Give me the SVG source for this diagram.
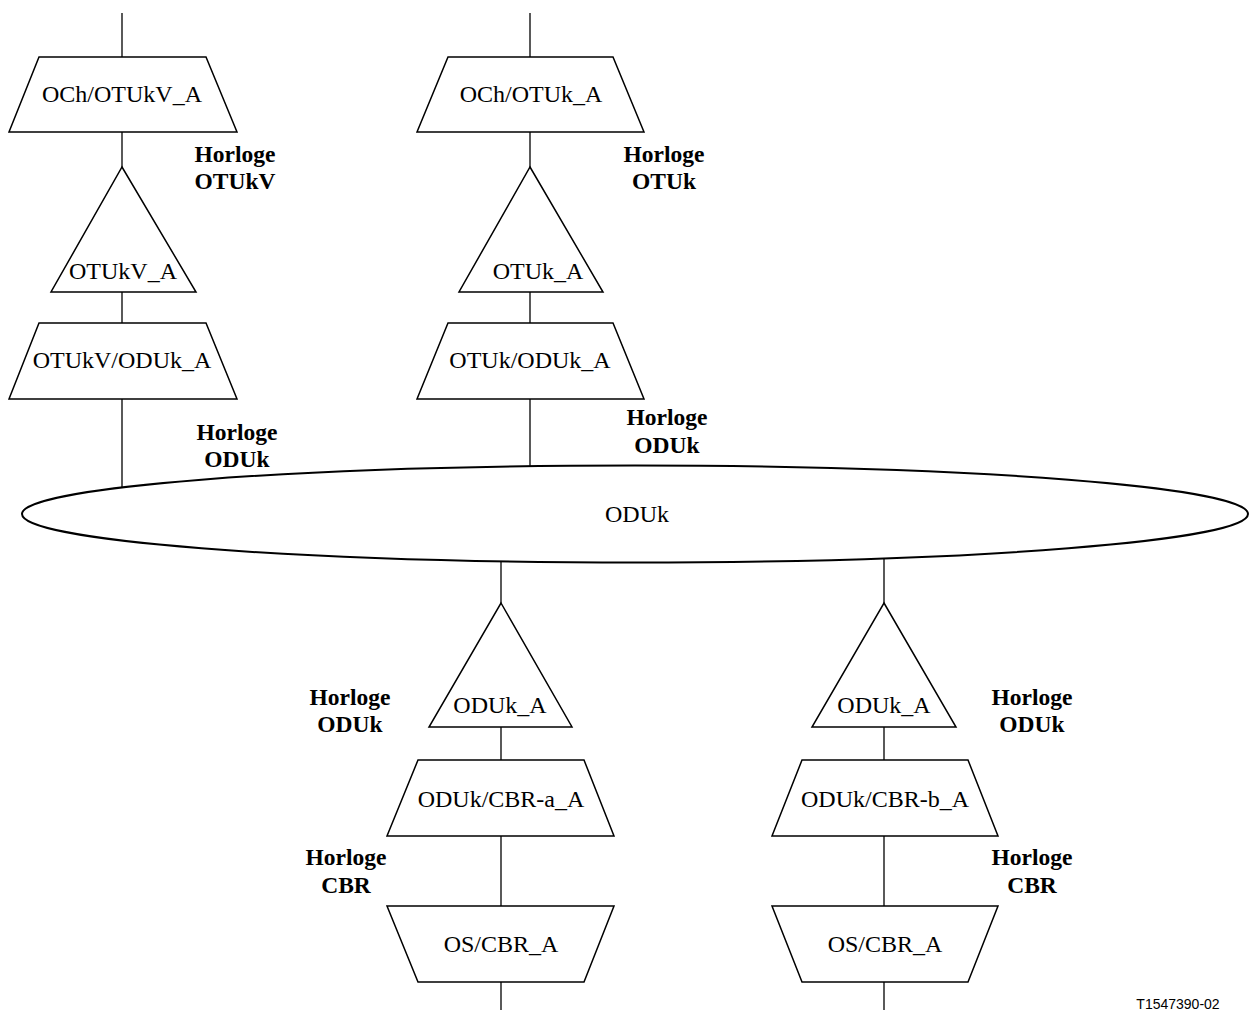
<svg xmlns="http://www.w3.org/2000/svg" width="1250" height="1010" viewBox="0 0 1250 1010">
<style>
.s{fill:#fff;stroke:#000;stroke-width:1.5}
.c{stroke:#000;stroke-width:1.3;fill:none}
.t{font-family:"Liberation Serif","Times New Roman",serif;font-size:24px;text-anchor:middle;fill:#000}
.b{font-family:"Liberation Serif","Times New Roman",serif;font-size:23.5px;font-weight:bold;text-anchor:middle;fill:#000}
.r{font-family:"Liberation Sans",Arial,sans-serif;font-size:14px;text-anchor:middle;fill:#000}
</style>
<rect width="1250" height="1010" fill="#fff"/>
<g id="connectors">
<line class="c" x1="122" y1="13" x2="122" y2="57"/>
<line class="c" x1="122" y1="132" x2="122" y2="167"/>
<line class="c" x1="122" y1="292" x2="122" y2="323"/>
<line class="c" x1="122" y1="399" x2="122" y2="488"/>
<line class="c" x1="530" y1="13" x2="530" y2="57"/>
<line class="c" x1="530" y1="132" x2="530" y2="167"/>
<line class="c" x1="530" y1="292" x2="530" y2="323"/>
<line class="c" x1="530" y1="399" x2="530" y2="466"/>
<line class="c" x1="501" y1="561" x2="501" y2="603"/>
<line class="c" x1="501" y1="727" x2="501" y2="760"/>
<line class="c" x1="501" y1="836" x2="501" y2="906"/>
<line class="c" x1="501" y1="982" x2="501" y2="1010"/>
<line class="c" x1="884" y1="559" x2="884" y2="603"/>
<line class="c" x1="884" y1="727" x2="884" y2="760"/>
<line class="c" x1="884" y1="836" x2="884" y2="906"/>
<line class="c" x1="884" y1="982" x2="884" y2="1010"/>
</g>
<g id="odu-ellipse">
<ellipse cx="635" cy="514" rx="613" ry="48.5" fill="none" stroke="#000" stroke-width="2"/>
<text class="t" x="637" y="522">ODUk</text>
</g>
<g id="och-otukv">
<polygon class="s" points="39,57 206,57 237,132 9,132"/>
<text class="t" x="122" y="102">OCh/OTUkV_A</text>
</g>
<g id="otukv">
<polygon class="s" points="122,167 196,292 51,292"/>
<text class="t" x="123" y="279">OTUkV_A</text>
</g>
<g id="otukv-oduk">
<polygon class="s" points="39,323 206,323 237,399 9,399"/>
<text class="t" x="122" y="368">OTUkV/ODUk_A</text>
</g>
<g id="och-otuk">
<polygon class="s" points="448,57 613,57 644,132 417,132"/>
<text class="t" x="531" y="102">OCh/OTUk_A</text>
</g>
<g id="otuk">
<polygon class="s" points="530,167 603,292 459,292"/>
<text class="t" x="538" y="279">OTUk_A</text>
</g>
<g id="otuk-oduk">
<polygon class="s" points="448,323 613,323 644,399 417,399"/>
<text class="t" x="530" y="368">OTUk/ODUk_A</text>
</g>
<g id="oduk-a1">
<polygon class="s" points="501,603 572,727 429,727"/>
<text class="t" x="500" y="713">ODUk_A</text>
</g>
<g id="oduk-cbr-a">
<polygon class="s" points="418,760 584,760 614,836 387,836"/>
<text class="t" x="501" y="807">ODUk/CBR-a_A</text>
</g>
<g id="os-cbr-a">
<polygon class="s" points="387,906 614,906 584,982 418,982"/>
<text class="t" x="501" y="952">OS/CBR_A</text>
</g>
<g id="oduk-a2">
<polygon class="s" points="884,603 956,727 812,727"/>
<text class="t" x="884" y="713">ODUk_A</text>
</g>
<g id="oduk-cbr-b">
<polygon class="s" points="802,760 968,760 998,836 772,836"/>
<text class="t" x="885" y="807">ODUk/CBR-b_A</text>
</g>
<g id="os-cbr-b">
<polygon class="s" points="772,906 998,906 968,982 802,982"/>
<text class="t" x="885" y="952">OS/CBR_A</text>
</g>
<g id="labels">
<text class="b" x="235" y="162">Horloge</text>
<text class="b" x="235" y="189">OTUkV</text>
<text class="b" x="664" y="162">Horloge</text>
<text class="b" x="664" y="189">OTUk</text>
<text class="b" x="237" y="440">Horloge</text>
<text class="b" x="237" y="467">ODUk</text>
<text class="b" x="667" y="425">Horloge</text>
<text class="b" x="667" y="453">ODUk</text>
<text class="b" x="350" y="705">Horloge</text>
<text class="b" x="350" y="732">ODUk</text>
<text class="b" x="1032" y="705">Horloge</text>
<text class="b" x="1032" y="732">ODUk</text>
<text class="b" x="346" y="865">Horloge</text>
<text class="b" x="346" y="893">CBR</text>
<text class="b" x="1032" y="865">Horloge</text>
<text class="b" x="1032" y="893">CBR</text>
<text class="r" x="1178" y="1009">T1547390-02</text>
</g>
</svg>
